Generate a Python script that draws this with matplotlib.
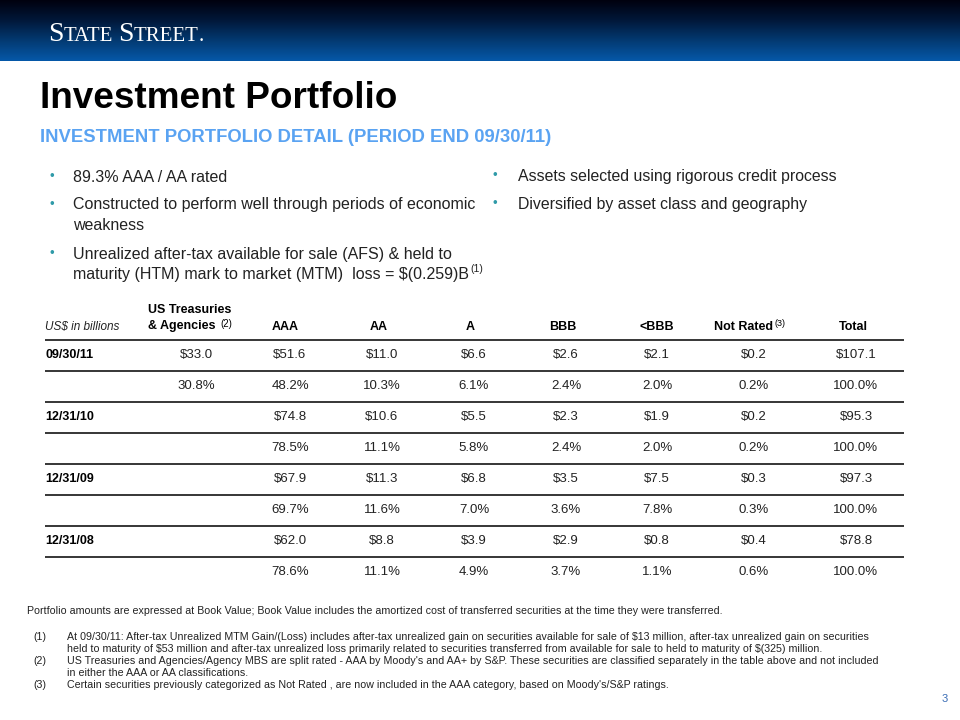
import matplotlib
matplotlib.use('Agg')
import matplotlib.pyplot as plt
import numpy as np
from matplotlib.colors import LinearSegmentedColormap

plt.rcParams['font.family'] = ['Liberation Sans', 'DejaVu Sans']
plt.rcParams['text.parse_math'] = False

#%% data
dates = ['09/30/11', '12/31/10', '12/31/09', '12/31/08']
ratings = ['AAA', 'AA', 'A', 'BBB', '<BBB', 'Not Rated', 'Total']
us_treasuries = [33.0, None, None, None]
us_treasuries_pct = [30.8, None, None, None]
amounts = [
    [51.6, 11.0, 6.6, 2.6, 2.1, 0.2, 107.1],
    [74.8, 10.6, 5.5, 2.3, 1.9, 0.2, 95.3],
    [67.9, 11.3, 6.8, 3.5, 7.5, 0.3, 97.3],
    [62.0, 8.8, 3.9, 2.9, 0.8, 0.4, 78.8],
]
pcts = [
    [48.2, 10.3, 6.1, 2.4, 2.0, 0.2, 100.0],
    [78.5, 11.1, 5.8, 2.4, 2.0, 0.2, 100.0],
    [69.7, 11.6, 7.0, 3.6, 7.8, 0.3, 100.0],
    [78.6, 11.1, 4.9, 3.7, 1.1, 0.6, 100.0],
]

left_bullets = [
    ['89.3% AAA / AA rated'],
    ['Constructed to perform well through periods of economic', 'weakness'],
    ['Unrealized after-tax available for sale (AFS) & held to',
     'maturity (HTM) mark to market (MTM)  loss = $(0.259)B'],
]
right_bullets = ['Assets selected using rigorous credit process',
                 'Diversified by asset class and geography']

note_main = ('Portfolio amounts are expressed at Book Value; Book Value includes the amortized '
             'cost of transferred securities at the time they were transferred.')
notes = [
    ('(1)', ['At 09/30/11: After-tax Unrealized MTM Gain/(Loss) includes after-tax unrealized gain on '
             'securities available for sale of $13 million, after-tax unrealized gain on securities',
             'held to maturity of $53 million and after-tax unrealized loss primarily related to securities '
             'transferred from available for sale to held to maturity of $(325) million.']),
    ('(2)', ["US Treasuries and Agencies/Agency MBS are split rated - AAA by Moody's and AA+ by S&P. "
             "These securities are classified separately in the table above and not included",
             'in either the AAA or AA classifications.']),
    ('(3)', ["Certain securities previously categorized as Not Rated , are now included in the AAA "
             "category, based on Moody's/S&P ratings."]),
]

#%% figure
fig = plt.figure(figsize=(9.6, 7.2), dpi=100)
ax = fig.add_axes([0, 0, 1, 1])
ax.set_xlim(0, 960)
ax.set_ylim(720, 0)
ax.axis('off')
r = fig.canvas.get_renderer()


def after(t, s, dx=0, dy=0, **kw):
    # put a text just right of another one
    bb = t.get_window_extent(renderer=r)
    x = ax.transData.inverted().transform((bb.x1, bb.y0))[0]
    y = t.get_position()[1]
    return ax.text(x + dx, y + dy, s, **kw)


# header band
cmap = LinearSegmentedColormap.from_list('band', ['#00010f', '#01183a', '#033a72', '#0658a8'])
grad = np.linspace(0, 1, 100).reshape(-1, 1)
ax.imshow(grad, cmap=cmap, aspect='auto', extent=[0, 960, 61, 0], zorder=0)
ax.set_xlim(0, 960)
ax.set_ylim(720, 0)

# logo in small caps
logo = [('S', 20), ('TATE', 15), (' ', 15), ('S', 20), ('TREET', 15), ('.', 15)]
t = ax.text(48, 41, logo[0][0], fontsize=logo[0][1], color='white', family='Liberation Serif',
            va='baseline')
for s, fs in logo[1:]:
    t = after(t, s, fontsize=fs, color='white', family='Liberation Serif', va='baseline')

ax.text(40, 99, 'Investment Portfolio', fontsize=26.6, fontweight='bold', va='center')
ax.text(40, 138, 'INVESTMENT PORTFOLIO DETAIL (PERIOD END 09/30/11)', fontsize=13.3,
        fontweight='bold', color='#5aa3f2', va='center')

# bullets
bullet_col = '#2f9aa8'
ys = [[177], [205, 226], [254, 274]]
for lines, yy in zip(left_bullets, ys):
    ax.text(52, yy[0], '\u2022', fontsize=9.5, color=bullet_col, va='center', ha='center')
    for s, y in zip(lines, yy):
        t = ax.text(73, y, s, fontsize=11.5, color='#222222', va='center')
after(t, '(1)', dx=1, dy=-5, fontsize=7.5, color='#222222', va='center')

for s, y in zip(right_bullets, [176, 204]):
    ax.text(495, y, '\u2022', fontsize=9.5, color=bullet_col, va='center', ha='center')
    ax.text(518, y, s, fontsize=11.4, color='#222222', va='center')

#%% table
col_x = [290, 382, 474, 566, 657, 754, 856]
head_x = [285, 379, 470, 563, 657, 744, 853]
treas_x = 196
row0 = 355
step = 31

ax.text(45, 327, 'US$ in billions', fontsize=8.5, style='italic', va='center', color='#222222')
ax.text(148, 310, 'US Treasuries', fontsize=9, fontweight='bold', va='center')
t = ax.text(148, 326, '& Agencies', fontsize=9, fontweight='bold', va='center')
after(t, '(2)', dx=5, dy=-2, fontsize=7, va='center')
for name, x in zip(ratings, head_x):
    if name == 'Not Rated':
        t = ax.text(x, 327, name, fontsize=9, fontweight='bold', va='center', ha='center')
        after(t, '(3)', dx=1, dy=-4, fontsize=6.5, va='center')
    else:
        ax.text(x, 327, name, fontsize=9, fontweight='bold', va='center', ha='center')

for i in range(8):
    ax.plot([45, 904], [340 + step * i] * 2, color='black', lw=1.1, solid_capstyle='butt')

for i, d in enumerate(dates):
    ya = row0 + step * 2 * i
    yp = ya + step
    ax.text(45, ya, d, fontsize=9, fontweight='bold', va='center')
    if us_treasuries[i] is not None:
        ax.text(treas_x, ya, '$%.1f' % us_treasuries[i], fontsize=9.5, va='center', ha='center',
                color='#222222')
        ax.text(treas_x, yp, '%.1f%%' % us_treasuries_pct[i], fontsize=9.5, va='center',
                ha='center', color='#222222')
    for v, p, x in zip(amounts[i], pcts[i], col_x):
        ax.text(x, ya, '$%.1f' % v, fontsize=9.5, va='center', ha='center', color='#222222')
        ax.text(x, yp, '%.1f%%' % p, fontsize=9.5, va='center', ha='center', color='#222222')

#%% footnotes
fn = dict(fontsize=7.7, va='center', color='#222222')
ax.text(27, 611, note_main, **fn)
y = 637
for tag, lines in notes:
    ax.text(33, y, tag, **fn)
    for s in lines:
        ax.text(67, y, s, **fn)
        y += 12

ax.text(945, 699, '3', fontsize=8, color='#3a6db5', va='center', ha='center')

fig.savefig('out.png', dpi=100)
